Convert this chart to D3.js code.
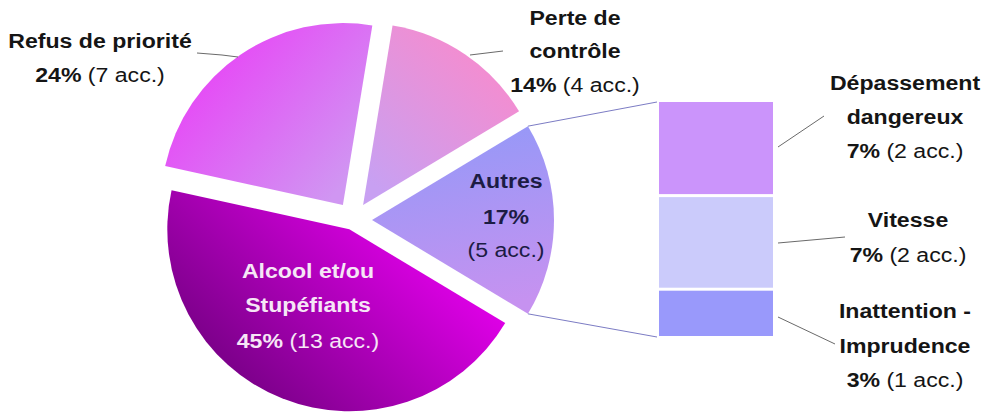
<!DOCTYPE html>
<html>
<head>
<meta charset="utf-8">
<script src="https://cdn.jsdelivr.net/npm/d3@7"></script>
<style>
  html, body { margin: 0; padding: 0; background: #ffffff; }
  svg { display: block; }
  text { font-family: "Liberation Sans", Arial, sans-serif; font-size: 21px; }
</style>
</head>
<body>
<svg id="chart" width="995" height="414"></svg>
<script>
// Causes of accidents (count of accidents per cause)
const categories = ["Alcool et/ou Stupéfiants", "Refus de priorité", "Perte de contrôle", "Autres"];
const values = [13, 7, 4, 5];

// Breakdown of "Autres"
const subCategories = ["Dépassement dangereux", "Vitesse", "Inattention - Imprudence"];
const subValues = [2, 2, 1];

const total = d3.sum(values);
const pct = v => Math.round(v / total * 100) + "%";

const svg = d3.select("#chart");
const defs = svg.append("defs");

// Pie geometry
const cx = 353, cy = 220, radius = 182;
const explode = [10, 18, 18, 19];
// Gradient end points are given in page coordinates
const sliceFill = [
  { x1: 450, y1: 255, x2: 290, y2: 420, c1: "#e200ea", c2: "#7e008c" },
  { x1: 195, y1: 80,  x2: 330, y2: 200, c1: "#e64af6", c2: "#d096f2" },
  { x1: 485, y1: 75,  x2: 380, y2: 190, c1: "#f18ed2", c2: "#c8a0f2" },
  { x1: 470, y1: 135, x2: 500, y2: 305, c1: "#9898f7", c2: "#c692f0" }
];

// "Autres" is centred on the right-hand horizontal
const autresHalf = Math.PI * values[3] / total;
const start = Math.PI / 2 + autresHalf;
const pie = d3.pie().sort(null).startAngle(start).endAngle(start + 2 * Math.PI);
const arcs = pie(values);
const arcGen = d3.arc().innerRadius(0).outerRadius(radius);

function offsetOf(a, i) {
  const mid = (a.startAngle + a.endAngle) / 2;
  return [cx + explode[i] * Math.sin(mid), cy - explode[i] * Math.cos(mid)];
}

const pieG = svg.append("g");
arcs.forEach((a, i) => {
  const [ox, oy] = offsetOf(a, i);
  const g = sliceFill[i];
  // gradient lives in the slice's translated user space
  const lg = defs.append("linearGradient")
    .attr("id", "grad" + i)
    .attr("gradientUnits", "userSpaceOnUse")
    .attr("x1", g.x1 - ox).attr("y1", g.y1 - oy)
    .attr("x2", g.x2 - ox).attr("y2", g.y2 - oy);
  lg.append("stop").attr("offset", "0%").attr("stop-color", g.c1);
  lg.append("stop").attr("offset", "100%").attr("stop-color", g.c2);

  pieG.append("path")
    .attr("transform", `translate(${ox},${oy})`)
    .attr("d", arcGen(a))
    .attr("fill", `url(#grad${i})`);
});

// Bar of the "Autres" breakdown
const barX = 659, barW = 114, gap = 3;
const y = d3.scaleLinear().domain([0, d3.sum(subValues)]).range([102, 336]);
const subFill = ["#cb94fb", "#cbcbfb", "#9999fb"];
let acc = 0;
const barG = svg.append("g");
subValues.forEach((v, i) => {
  const top = y(acc) + (i > 0 ? gap / 2 : 0);
  const bottom = y(acc + v) - (i < subValues.length - 1 ? gap / 2 : 0);
  barG.append("rect")
    .attr("x", barX).attr("y", top)
    .attr("width", barW).attr("height", bottom - top)
    .attr("fill", subFill[i]);
  acc += v;
});

// Connectors from the "Autres" slice to the bar
const au = arcs[3];
const [ax, ay] = offsetOf(au, 3);
const pTop = [ax + radius * Math.sin(au.startAngle), ay - radius * Math.cos(au.startAngle)];
const pBot = [ax + radius * Math.sin(au.endAngle), ay - radius * Math.cos(au.endAngle)];
svg.append("line")
  .attr("x1", pTop[0]).attr("y1", pTop[1]).attr("x2", barX - 2).attr("y2", y(0))
  .attr("stroke", "#7c7cc4").attr("stroke-width", 1);
svg.append("line")
  .attr("x1", pBot[0]).attr("y1", pBot[1]).attr("x2", barX - 2).attr("y2", y(d3.sum(subValues)) + 1)
  .attr("stroke", "#7c7cc4").attr("stroke-width", 1);

// Leader lines for outside labels
const leaders = [
  [[197, 53], [222, 55], [238, 57]],
  [[470, 55], [503, 51]],
  [[778, 147], [824, 116]],
  [[778, 243], [845, 237]],
  [[778, 317], [835, 344]]
];
leaders.forEach(pts => {
  svg.append("path")
    .attr("d", d3.line()(pts))
    .attr("fill", "none").attr("stroke", "#6a6a6a").attr("stroke-width", 1);
});

// Labels: each line is a list of [text, bold] parts
const countTxt = v => `(${v} acc.)`;
const labels = [
  { x: 308, y: [278, 312, 348], color: "#f6e6f6", lines: [
      [["Alcool et/ou", true]],
      [["Stupéfiants", true]],
      [[pct(values[0]), true], [" " + countTxt(values[0]), false]] ] },
  { x: 100, y: [48, 82], color: "#151515", lines: [
      [["Refus de priorité", true]],
      [[pct(values[1]), true], [" " + countTxt(values[1]), false]] ] },
  { x: 575, y: [25, 58, 92], color: "#151515", lines: [
      [["Perte de", true]],
      [["contrôle", true]],
      [[pct(values[2]), true], [" " + countTxt(values[2]), false]] ] },
  { x: 506, y: [188, 224, 257], color: "#1c1c44", lines: [
      [["Autres", true]],
      [[pct(values[3]), true]],
      [[countTxt(values[3]), false]] ] },
  { x: 905, y: [90, 124, 158], color: "#151515", lines: [
      [["Dépassement", true]],
      [["dangereux", true]],
      [[pct(subValues[0]), true], [" " + countTxt(subValues[0]), false]] ] },
  { x: 908, y: [227, 262], color: "#151515", lines: [
      [["Vitesse", true]],
      [[pct(subValues[1]), true], [" " + countTxt(subValues[1]), false]] ] },
  { x: 905, y: [318, 353, 387], color: "#151515", lines: [
      [["Inattention -", true]],
      [["Imprudence", true]],
      [[pct(subValues[2]), true], [" " + countTxt(subValues[2]), false]] ] }
];

labels.forEach(lab => {
  lab.lines.forEach((parts, li) => {
    const t = svg.append("text")
      .attr("transform", `translate(${lab.x},${lab.y[li]}) scale(1.1,1)`)
      .attr("text-anchor", "middle")
      .attr("fill", lab.color);
    parts.forEach(([s, b]) => {
      t.append("tspan")
        .attr("font-weight", b ? "bold" : "normal")
        .attr("xml:space", "preserve")
        .text(s);
    });
  });
});
</script>
</body>
</html>
